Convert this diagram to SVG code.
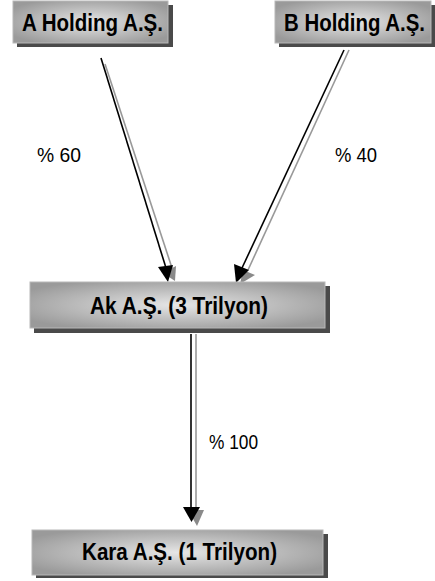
<svg xmlns="http://www.w3.org/2000/svg" width="435" height="581" viewBox="0 0 435 581">
  <style>
    .box { fill: url(#boxFill); stroke: #b8b8b8; stroke-width: 1; }
    .shadow { fill: #4a4a4a; }
    .name { font-family: "Liberation Sans", Arial, sans-serif; font-weight: bold; font-size: 23px; fill: #000; }
    .pct { font-family: "Liberation Sans", Arial, sans-serif; font-size: 20px; fill: #000; }
    .line { stroke: #000; stroke-width: 1.6; fill: none; }
    .line2 { stroke: #999; stroke-width: 1.6; fill: none; }
  </style>
  <defs>
    <radialGradient id="boxFill" cx="0.5" cy="0.5" r="0.6">
      <stop offset="0" stop-color="#e6e6e6"/>
      <stop offset="1" stop-color="#9a9a9a"/>
    </radialGradient>
  </defs>
  <rect width="435" height="581" fill="#fff"/>

  <g id="connectors">
    <!-- A Holding to Ak -->
    <line class="line2" x1="105" y1="64" x2="172" y2="268"/>
    <line class="line" x1="101" y1="58" x2="166" y2="268"/>
    <polygon points="176,266 175,281 163,273" fill="#8a8a8a"/>
    <polygon points="158,267 173,265 168,282" fill="#000"/>
    <!-- B Holding to Ak -->
    <line class="line2" x1="349" y1="50" x2="248" y2="270"/>
    <line class="line" x1="344" y1="50" x2="242" y2="268"/>
    <polygon points="243,270 255,275 240,284" fill="#8a8a8a"/>
    <polygon points="234,264 249,270 236,283" fill="#000"/>
    <!-- Ak to Kara -->
    <line class="line2" x1="196" y1="334" x2="196" y2="512"/>
    <line class="line" x1="191" y1="334" x2="191" y2="512"/>
    <polygon points="188,510 204,510 197,526" fill="#8a8a8a"/>
    <polygon points="183,507 200,507 191.5,522" fill="#000"/>
  </g>

  <g id="a-holding">
    <rect class="shadow" x="17" y="5" width="156" height="42"/>
    <rect class="box" x="13" y="1" width="155" height="42"/>
    <text class="name" x="22" y="31" textLength="141" lengthAdjust="spacingAndGlyphs">A Holding A.Ş.</text>
  </g>

  <g id="b-holding">
    <rect class="shadow" x="279" y="5" width="156" height="42"/>
    <rect class="box" x="275" y="1" width="156" height="42"/>
    <text class="name" x="284" y="31" textLength="141" lengthAdjust="spacingAndGlyphs">B Holding A.Ş.</text>
  </g>

  <g id="ak">
    <rect class="shadow" x="34" y="286" width="296" height="47"/>
    <rect class="box" x="30" y="282" width="295" height="46"/>
    <text class="name" x="90" y="314" textLength="178" lengthAdjust="spacingAndGlyphs">Ak A.Ş. (3 Trilyon)</text>
  </g>

  <g id="kara">
    <rect class="shadow" x="36" y="534" width="292" height="44"/>
    <rect class="box" x="32" y="530" width="291" height="45"/>
    <text class="name" x="82" y="560" textLength="195" lengthAdjust="spacingAndGlyphs">Kara A.Ş. (1 Trilyon)</text>
  </g>

  <g id="labels">
    <text class="pct" x="37" y="162" textLength="44" lengthAdjust="spacingAndGlyphs">% 60</text>
    <text class="pct" x="335" y="162" textLength="42" lengthAdjust="spacingAndGlyphs">% 40</text>
    <text class="pct" x="209" y="449" textLength="49" lengthAdjust="spacingAndGlyphs">% 100</text>
  </g>
</svg>
